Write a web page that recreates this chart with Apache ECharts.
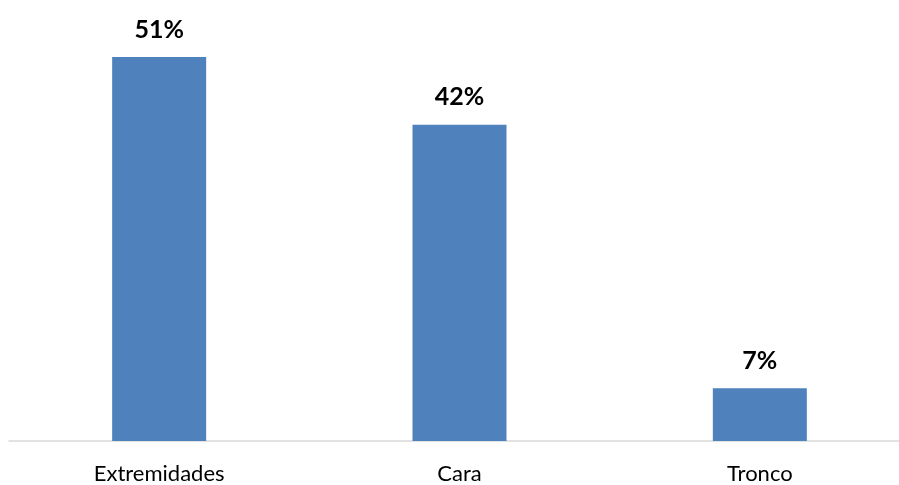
<!DOCTYPE html>
<html>
<head>
<meta charset="utf-8">
<script src="https://cdn.jsdelivr.net/npm/echarts@6/dist/echarts.min.js"></script>
<style>
  html, body { margin: 0; padding: 0; background: #fff; overflow: hidden; }
  #chart { width: 910px; height: 485px; }
</style>
</head>
<body>
<div id="chart"></div>
<script>
// Body regions and their share of cases (%)
const categories = ['Extremidades', 'Cara', 'Tronco'];
const shares = [51, 42, 7];

const chart = echarts.init(document.getElementById('chart'));
chart.setOption({
  animation: false,
  grid: { left: 9, right: 0, top: 27, bottom: 42 },
  xAxis: {
    type: 'category',
    data: categories,
    axisLine: { lineStyle: { color: '#d9d9d9', width: 1.5 } },
    axisTick: { show: false },
    axisLabel: {
      color: '#000',
      fontFamily: 'Lato',
      fontSize: 22,
      margin: 22
    }
  },
  yAxis: {
    type: 'value',
    min: 0,
    max: 55,
    show: false
  },
  series: [{
    type: 'bar',
    data: shares,
    barWidth: 94,
    itemStyle: { color: '#4f81bd' },
    label: {
      show: true,
      position: 'top',
      distance: 15,
      formatter: p => p.value + '%',
      color: '#000',
      fontFamily: 'Lato',
      fontWeight: 'bold',
      fontSize: 25
    }
  }]
});
</script>
</body>
</html>
